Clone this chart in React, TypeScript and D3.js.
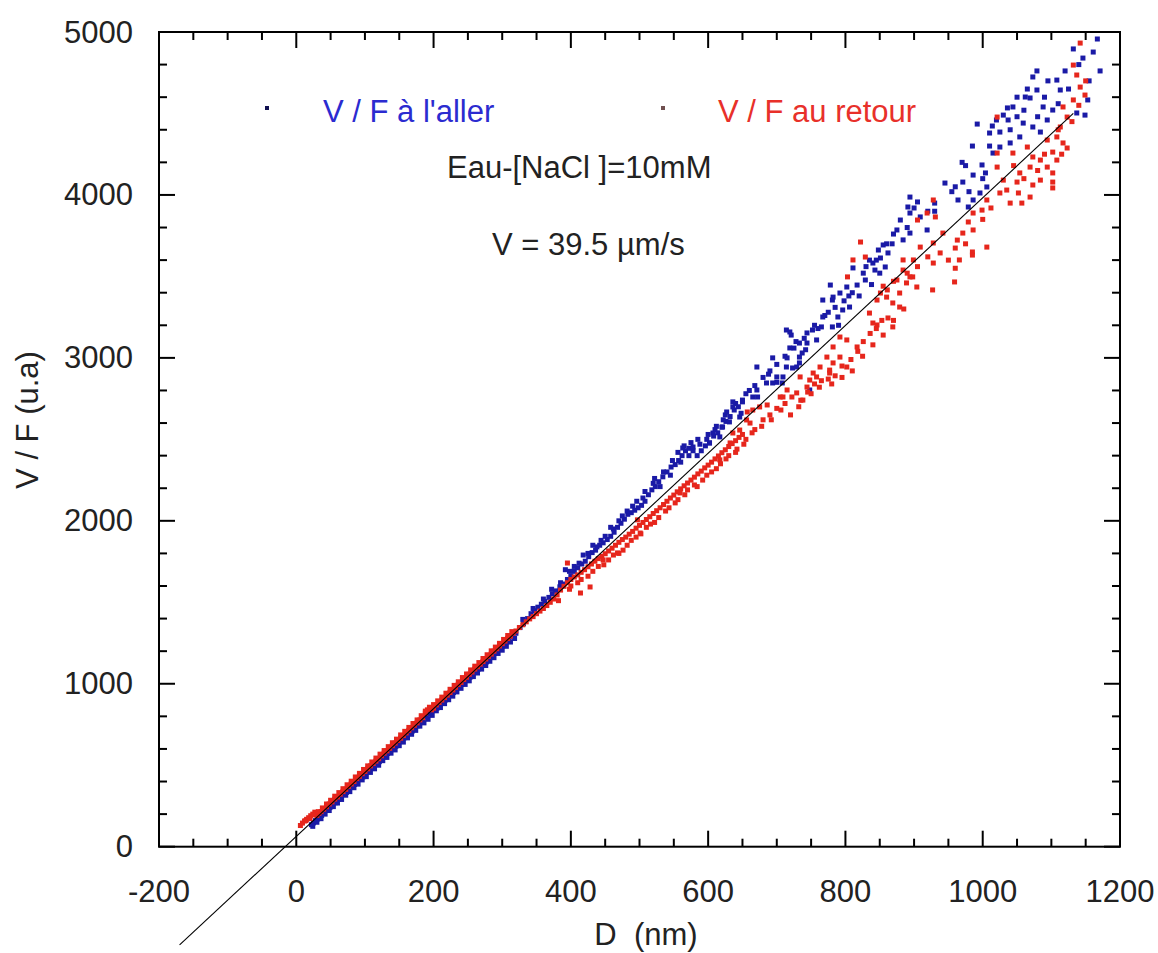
import React from "react";
import * as d3 from "d3";

// ---------- axis ticks ----------
const xMajorTicks = [-200, 0, 200, 400, 600, 800, 1000, 1200];
const yMajorTicks = [0, 1000, 2000, 3000, 4000, 5000];
const xMinorStep = 50;
const yMinorStep = 200;

// ---------- labels ----------
const xTitle = "D  (nm)";
const yTitle = "V / F (u.a)";
const legendAller = "V / F à l'aller";
const legendRetour = "V / F au retour";
const note1 = "Eau-[NaCl ]=10mM";
const note2 = "V = 39.5 µm/s";

// ---------- fit line end points ----------
const fitD = [-170, 1132];
const fitVF = [-603, 4500];

// ---------- V/F à l'aller (blue) ----------
const allerLow: [number, number][] = [
  [22,135],[25,146],[28,160],[31,170],[34,185],[37,192],[41,210],[45,228],[49,240],[53,258],
  [57,270],[61,290],[65,302],[69,322],[73,333],[77,350],[81,370],[85,382],[89,398],[93,416],
  [97,428],[101,447],[105,460],[109,480],[113,490],[117,510],[121,522],[125,542],[129,552],[133,572],
  [137,586],[141,604],[145,616],[149,636],[153,648],[157,668],[161,680],[165,698],[169,710],[173,730],
  [177,742],[181,762],[185,780],[189,800],[193,812],[197,822],[201,836],[205,850],[209,868],[213,882],
  [217,900],[221,914],[225,934],[229,946],[233,962],[237,978],[241,996],[245,1008],[249,1028],[253,1040],
  [257,1058],[261,1072],[265,1090],[269,1102],[273,1122],[277,1134],[281,1152],[285,1166],[289,1186],[293,1198],
  [297,1214],[301,1232],
];
const allerLow2: [number, number][] = [
  [24,125],[30,150],[36,172],[42,200],[48,222],[54,246],[60,268],[66,290],[72,316],[78,338],
  [84,362],[90,384],[96,410],[102,430],[108,456],[114,478],[120,500],[126,528],[132,548],[138,574],
  [144,594],[150,620],[156,642],[162,668],[168,690],[174,714],[180,740],[186,760],[192,782],[198,806],
  [204,834],[210,854],[216,878],[222,902],[228,924],[234,950],[240,972],[246,996],[252,1018],[258,1044],
  [264,1066],[270,1090],[276,1112],[282,1138],[288,1160],[294,1186],[300,1206],[306,1230],[312,1256],[318,1278],
];
const allerMid: [number, number][] = [
  [305,1250],[310,1270],[315,1290],[320,1310],[326,1345],[331,1368],[337,1400],[342,1430],[347,1448],[352,1470],
  [357,1488],[362,1505],[368,1530],[373,1552],[378,1570],[384,1595],[389,1612],[395,1640],[400,1662],[405,1690],
  [410,1712],[416,1735],[421,1752],[426,1780],[431,1805],[436,1820],[442,1850],[447,1865],[453,1885],[458,1905],
  [463,1930],[468,1960],[473,1985],[478,2010],[483,2040],[488,2050],[493,2065],[498,2080],[503,2095],[508,2120],
  [513,2160],[518,2190],[523,2210],[528,2240],[534,2270],[540,2300],[546,2330],[552,2345],[557,2370],[562,2400],
  [567,2430],[572,2445],[578,2430],[584,2400],[590,2430],[596,2460],[602,2478],[608,2520],[614,2540],[620,2575],
  [626,2610],[632,2640],[638,2680],[644,2700],[650,2730],
  [330,1395],[345,1462],[360,1520],[372,1580],[385,1620],[398,1690],[412,1740],[425,1800],[438,1840],[450,1905],
  [462,1950],[475,2030],[490,2090],[505,2140],[520,2230],[535,2300],[548,2370],[556,2420],[565,2460],[575,2480],
  [588,2470],[600,2530],[612,2580],[625,2650],[640,2720],[655,2780],[668,2830],[680,2880],[690,2920],[700,2960],
  [712,3010],[725,3060],[740,3120],[755,3200],[770,3260],[785,3310],[798,3350],[810,3400],
  [392,1700],[405,1720],[418,1790],[432,1850],[444,1880],[458,1960],[470,2000],[482,2060],[496,2120],[508,2180],
  [522,2260],[530,2210],[545,2280],[560,2360],[572,2400],[585,2500],[598,2500],[610,2560],[622,2620],[636,2730],
  [648,2660],[660,2800],[672,2760],[688,2900],[700,2850],[715,3000],[728,3100],[742,3050],[760,3180],[775,3280],
  [790,3200],[805,3380],[820,3380],[838,3450],[850,3520],
];
const allerHigh: [number, number][] = [
  [714,3171],[721,3140],[733,3091],[737,3030],[694,3000],[729,2944],[714,2944],[671,2944],[700,2883],[708,2846],
  [685,2846],[694,2846],[671,2803],[665,2760],[650,2741],[636,2699],[627,2668],[646,2637],[631,2607],[621,2576],
  [607,2539],[617,2515],[602,2478],[563,2447],[578,2453],
  [781,3355],[767,3355],[806,3312],[796,3294],[789,3251],[767,3251],[765,3190],[781,3190],[752,3171],[744,3153],
  [719,3159],[719,3061],[744,3091],[758,3110],[733,3005],[733,2969],[709,2883],[723,2938],[748,2803],
  [1167,4957],[1161,4877],[1146,4840],[1132,4896],[1171,4761],[1120,4761],[1108,4705],[1079,4761],[1073,4724],[1113,4644],
  [1079,4644],[1069,4595],[1062,4601],[1088,4540],[1102,4521],[1149,4490],[1137,4503],[1153,4583],[1044,4540],[1036,4534],
  [1030,4490],[1037,4460],[1059,4441],[1073,4417],[992,4435],[1014,4423],[1025,4386],[1054,4356],[1040,4319],[1094,4460],
  [1084,4386],[1025,4294],[1015,4257],[999,4184],[986,4122],[971,4079],[945,4073],[1004,4135],[1006,4049],[996,4012],
  [986,3969],[979,3926],[964,3969],[894,3987],[905,3957],[891,3926],[880,3846],[875,3785],[894,3889],[909,3865],
  [919,3785],[894,3766],[884,3724],[855,3693],[848,3662],[862,3644],[851,3613],[840,3582],[858,3558],[843,3539],
  [829,3478],[817,3447],[811,3552],[802,3435],[778,3447],[792,3398],[782,3373],
  [826,3520],[835,3600],[868,3700],[890,3800],[930,3900],[955,4020],[975,4180],[1010,4300],[1050,4480],[1090,4600],
  [1010,4380],[1020,4460],[1050,4600],[1060,4520],[1080,4480],[1095,4700],[1110,4560],[1125,4650],[1140,4800],[1155,4700],
  [960,4050],[970,4200],[985,4300],[930,3950],[920,3900],[900,3920],[870,3760],[860,3700],[845,3600],[830,3560],
  [980,4020],[1000,4100],[1040,4400],[1065,4650],
];

// ---------- V/F au retour (red) ----------
const retourLow: [number, number][] = [
  [6,130],[9,145],[12,158],[15,168],[18,178],[21,190],[24,200],[27,212],[30,192],[33,205],
  [36,215],[40,230],[44,245],[48,262],[52,275],[56,292],[60,305],[64,322],[68,338],[72,352],
  [76,370],[80,385],[84,400],[88,418],[92,432],[96,448],[100,462],[104,478],[108,496],[112,510],
  [116,525],[120,540],[124,558],[128,574],[132,588],[136,604],[140,620],[144,636],[148,652],[152,666],
  [156,682],[160,698],[164,714],[168,730],[172,745],[176,760],[180,778],[184,792],[188,820],[191,840],
  [194,848],[197,840],[200,850],[204,870],[208,885],[212,900],[216,915],[220,930],[224,946],[228,962],
  [232,978],[236,995],[240,1008],[244,1026],[248,1040],[252,1058],[256,1072],[260,1090],[264,1104],[268,1120],
  [272,1136],[276,1152],[280,1168],[284,1182],[288,1200],[292,1215],[296,1232],[300,1246],
];
const retourLow2: [number, number][] = [
  [14,160],[20,172],[26,196],[32,215],[38,238],[44,262],[50,285],[56,310],[62,332],[68,356],
  [74,380],[80,402],[86,428],[92,450],[98,474],[104,496],[110,520],[116,544],[122,568],[128,590],
  [134,614],[140,638],[146,660],[152,686],[158,708],[164,732],[170,756],[176,778],[182,804],[188,832],
  [194,856],[200,872],[206,895],[212,918],[218,942],[224,966],[230,990],[236,1012],[242,1038],[248,1060],
  [254,1085],[260,1108],[266,1130],[272,1155],[278,1178],[284,1202],[290,1225],[296,1248],[302,1272],[308,1296],
  [314,1320],
];
const retourMid: [number, number][] = [
  [304,1262],[308,1278],[312,1292],[316,1310],[320,1324],[325,1345],[330,1362],[335,1380],[340,1398],[345,1412],
  [350,1430],[355,1446],[360,1462],[365,1480],[370,1500],[375,1520],[380,1545],[385,1575],[390,1598],[395,1620],
  [400,1640],[405,1655],[410,1668],[415,1684],[420,1700],[425,1718],[430,1735],[435,1752],[440,1768],[445,1782],
  [450,1798],[455,1815],[460,1832],[465,1850],[470,1868],[475,1885],[480,1900],[485,1918],[490,1935],[495,1955],
  [500,1972],[505,1990],[510,2008],[515,2025],[520,2045],[525,2062],[530,2080],[535,2100],[540,2120],[545,2140],
  [550,2158],[555,2178],[560,2196],[565,2215],[570,2232],[575,2250],[580,2268],[585,2288],[590,2305],[595,2325],
  [600,2342],[605,2360],[610,2380],[615,2398],[620,2418],[625,2436],[630,2456],[635,2474],[640,2492],[645,2512],
  [650,2530],
  [428,1594],[414,1557],[468,1803],[395,1741],[497,2006],[501,1925],[447,1760],[559,2171],[617,2374],[656,2619],
  [382,1510],[398,1580],[410,1620],[425,1660],[440,1720],[455,1760],[470,1800],[482,1850],[495,1900],[510,1960],
  [522,1990],[538,2060],[552,2110],[566,2160],[580,2220],[592,2250],[605,2300],[618,2350],[630,2400],[642,2440],
  [655,2500],
  [400,1600],[415,1640],[432,1690],[448,1730],[462,1790],[476,1820],[488,1880],[502,1920],[516,1980],[528,2020],
  [543,2080],[556,2130],[570,2190],[584,2210],[598,2280],[612,2320],[626,2380],[640,2420],[652,2470],
];
const retourHigh: [number, number][] = [
  [792,3128],[782,3067],[773,3005],[782,2969],[763,2944],[777,2925],[758,2883],[748,2864],[734,2883],[744,2821],
  [729,2785],[738,2741],[715,2803],[705,2760],[686,2711],[675,2699],[665,2680],[657,2668],[661,2600],[646,2557],
  [636,2539],[632,2478],[802,2944],[792,3005],
  [668,2560],[680,2620],[690,2650],[700,2690],[712,2720],[722,2760],[732,2700],[745,2790],[755,2840],[765,2860],
  [775,2870],[785,2890],[795,2950],[808,2990],[818,3040],[826,3100],[836,3150],[845,3180],[853,3230],
  [664,2540],[678,2580],[692,2620],[706,2680],[720,2650],[735,2740],[750,2780],[762,2820],[780,2840],[795,2880],
  [810,2920],[825,3010],[840,3080],[855,3140],[870,3230],[885,3300],
  [898,3497],[889,3460],[904,3435],[879,3398],[860,3373],[869,3337],[879,3312],[846,3355],[835,3275],[840,3214],
  [862,3245],[869,3190],[846,3202],[927,3417],[959,3466],[817,3067],[802,3110],[777,2907],[753,2907],[709,2760],
  [1006,3680],[985,3650],[985,3631],[966,3601],
  [1142,4932],[1132,4797],[1137,4736],[1142,4662],[1149,4613],[1132,4583],[1117,4540],[1123,4478],[1113,4417],[1108,4356],
  [1117,4319],[1123,4288],[1094,4337],[1102,4263],[1108,4214],[1094,4171],[1102,4135],[1102,4079],[1102,4043],[1084,4091],
  [1073,4061],[1084,4214],[1073,4233],[1069,4171],[1054,4135],[1050,4079],[1052,4012],[1040,3950],[1057,3950],[1069,3987],
  [1030,4091],[1025,4012],[1021,4171],[1044,4257],[1065,4294],[1021,4257],[1006,3969],[999,3907],[986,3889],[979,3834],
  [986,3785],[971,3766],[963,3723],[960,3674],[942,3766],[928,3705],[938,3644],[928,3582],[919,3889],[928,3969],
  [931,3865],[905,3846],[909,3680],[899,3601],[884,3539],[894,3497],[875,3478],[861,3417],[851,3398],[884,3601],
  [822,3711],[811,3601],[803,3497],[829,3619],[1021,4478],
  [1000,3850],[1012,3920],[1035,4030],[1060,4100],[1080,4150],[1090,4250],[1110,4400],[1130,4450],[1140,4550],[1150,4700],
  [950,3600],[960,3550],[975,3700],[920,3620],[905,3560],[890,3520],[870,3470],[855,3440],[1045,4180],[1115,4250],
];

const FONT = "'Liberation Sans', Arial, sans-serif";
const BLUE = "#1a1aa6";
const RED = "#e6261c";

export default function App() {
  const W = 1158, H = 953;
  const left = 159, right = 1120, top = 32, bottom = 846.7;
  const x = d3.scaleLinear().domain([-200, 1200]).range([left, right]);
  const y = d3.scaleLinear().domain([0, 5000]).range([bottom, top]);

  const xMinor = d3.range(-200, 1200 + 1, xMinorStep).filter(v => !xMajorTicks.includes(v));
  const yMinor = d3.range(0, 5000 + 1, yMinorStep).filter(v => !yMajorTicks.includes(v));

  const aller = [...allerLow, ...allerLow2, ...allerMid, ...allerHigh];
  const retour = [...retourLow, ...retourLow2, ...retourMid, ...retourHigh];
  const ms = 5;

  const fitPath = d3.line<number>()
    .x((_, i) => x(fitD[i]))
    .y((_, i) => y(fitVF[i]))(fitD) as string;

  const MAJ = 16, MIN = 8;

  return (
    <svg width={W} height={H} style={{ position: "absolute", left: 0, top: 0, background: "#fff" }}
      fontFamily={FONT}>
      <rect x={0} y={0} width={W} height={H} fill="#fff" />
      {/* points */}
      <g fill={BLUE}>
        {aller.map((p, i) => (
          <rect key={"a" + i} x={x(p[0]) - ms / 2} y={y(p[1]) - ms / 2} width={ms} height={ms} />
        ))}
      </g>
      <g fill={RED}>
        {retour.map((p, i) => (
          <rect key={"r" + i} x={x(p[0]) - ms / 2} y={y(p[1]) - ms / 2} width={ms} height={ms} />
        ))}
      </g>
      {/* fit line */}
      <path d={fitPath} stroke="#000" strokeWidth={1.1} fill="none" />

      {/* frame */}
      <rect x={left} y={top} width={right - left} height={bottom - top} fill="none" stroke="#000" strokeWidth={2} />
      {/* ticks */}
      <g stroke="#000" strokeWidth={2}>
        {xMajorTicks.map(v => (
          <g key={"xm" + v}>
            <line x1={x(v)} x2={x(v)} y1={bottom} y2={bottom - MAJ} />
            <line x1={x(v)} x2={x(v)} y1={top} y2={top + MAJ} />
          </g>
        ))}
        {xMinor.map(v => (
          <g key={"xn" + v}>
            <line x1={x(v)} x2={x(v)} y1={bottom} y2={bottom - MIN} />
            <line x1={x(v)} x2={x(v)} y1={top} y2={top + MIN} />
          </g>
        ))}
        {yMajorTicks.map(v => (
          <g key={"ym" + v}>
            <line x1={left} x2={left + MAJ} y1={y(v)} y2={y(v)} />
            <line x1={right} x2={right - MAJ} y1={y(v)} y2={y(v)} />
          </g>
        ))}
        {yMinor.map(v => (
          <g key={"yn" + v}>
            <line x1={left} x2={left + MIN} y1={y(v)} y2={y(v)} />
            <line x1={right} x2={right - MIN} y1={y(v)} y2={y(v)} />
          </g>
        ))}
      </g>
      {/* tick labels */}
      <g fontSize={31} fill="#222">
        {xMajorTicks.map(v => (
          <text key={"xl" + v} x={x(v)} y={902} textAnchor="middle">{v}</text>
        ))}
        {yMajorTicks.map(v => (
          <text key={"yl" + v} x={133} y={y(v) + 10.5} textAnchor="end">{v}</text>
        ))}
      </g>
      {/* axis titles */}
      <text x={646} y={945} fontSize={31} fill="#222" textAnchor="middle" style={{ whiteSpace: "pre" }}>{xTitle}</text>
      <text transform="translate(38,420) rotate(-90)" fontSize={31} fill="#222" textAnchor="middle">{yTitle}</text>

      {/* legend */}
      <rect x={267 - 2} y={108 - 2} width={4} height={4} fill="#101050" />
      <text x={323} y={122} fontSize={31} fill="#2b2bd0">{legendAller}</text>
      <rect x={663 - 2} y={108 - 2} width={4} height={4} fill="#705050" />
      <text x={718} y={122} fontSize={31} fill="#e8302a">{legendRetour}</text>

      {/* notes */}
      <text x={447} y={178} fontSize={31} fill="#222">{note1}</text>
      <text x={492} y={255} fontSize={31} fill="#222">{note2}</text>
    </svg>
  );
}
